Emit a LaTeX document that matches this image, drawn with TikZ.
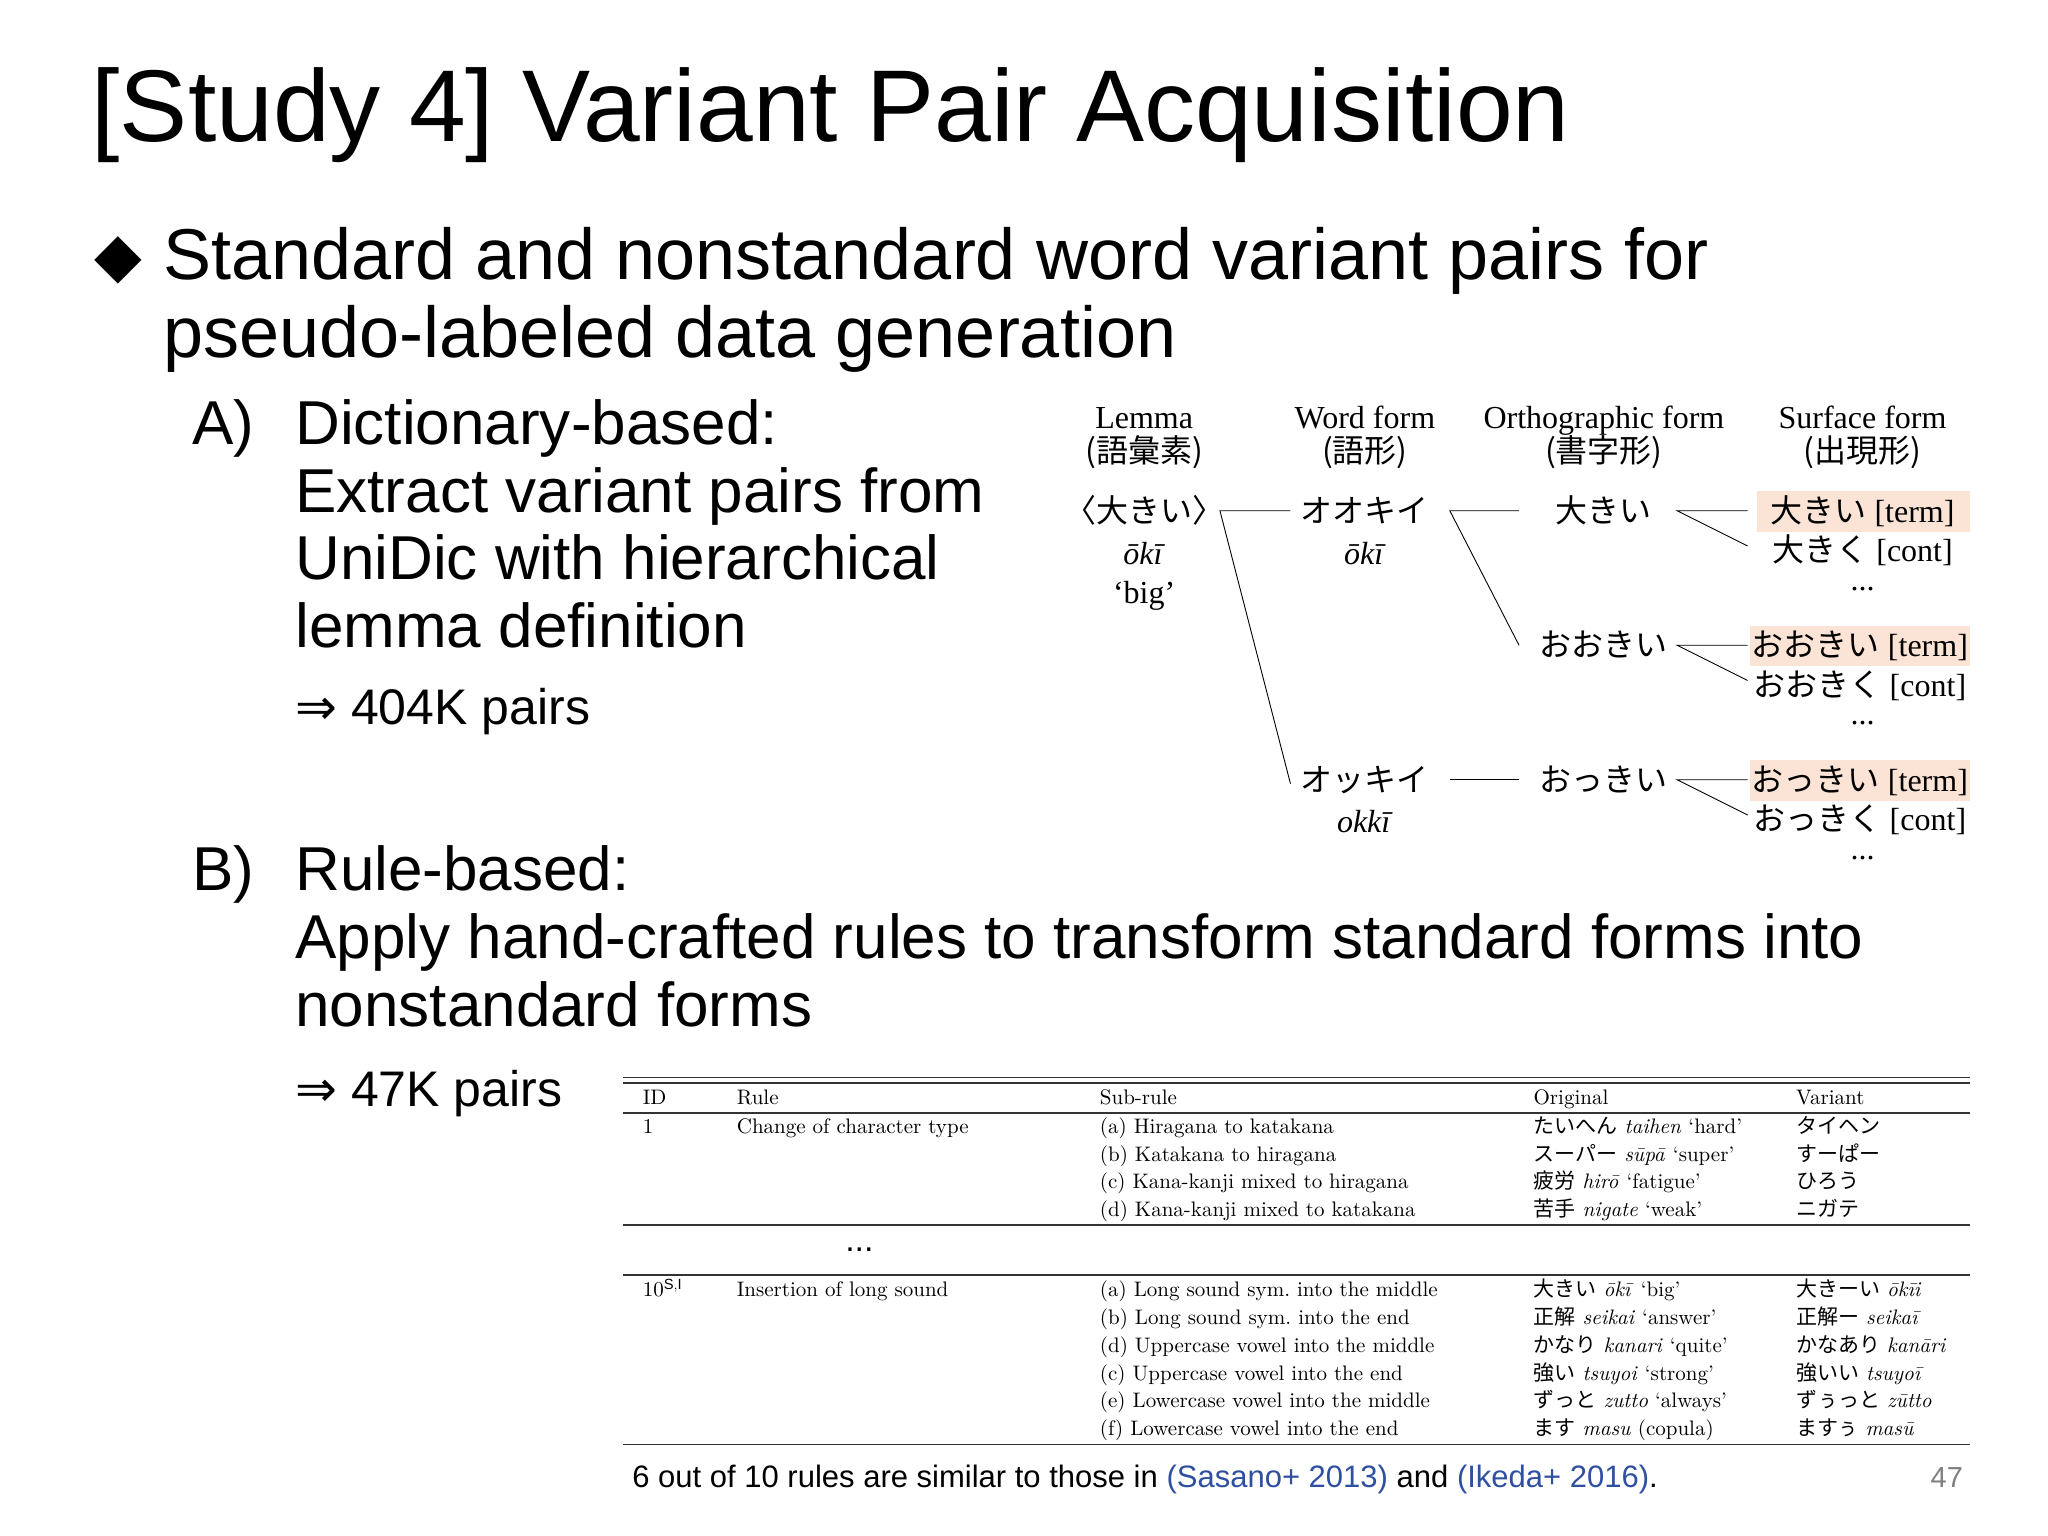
\documentclass[tikz,border=0pt]{standalone}
\usepackage{fontspec}
\setmainfont{Liberation Sans}
\newfontfamily\jp{Noto Sans CJK JP}
\newfontfamily\tser{Liberation Serif}
\newfontfamily\dvs{DejaVu Sans}
\newfontfamily\lm{lmroman10}[Extension=.otf,UprightFont=*-regular,ItalicFont=*-italic]
\newcommand{\fs}[1]{\fontsize{#1}{1.2\dimexpr #1\relax}\selectfont}
\newcommand{\J}[1]{{\jp #1}}
\definecolor{hl}{HTML}{FBE3D6}
\definecolor{lk}{HTML}{2F4FA0}
\tikzset{
 tt/.style={anchor=base,font=\tser\fs{32pt},inner sep=0pt},
 tb/.style={anchor=base west,font=\lm\fs{21pt},inner sep=0pt},
 ln/.style={line width=0.9pt},
 rl/.style={line width=1.6pt,black!80},
 sl/.style={anchor=base west,inner sep=0pt}
}
\begin{document}
\begin{tikzpicture}[x=1.306pt,y=-1.306pt]
\useasboundingbox (0,0) rectangle (1568,1176);
% title and bullets
\node[sl,font=\fs{102pt}] (title) at (70,108) {[Study 4] Variant Pair Acquisition};
\node[sl,font=\dvs\fs{62pt}] (dia) at (72,212) {◆};
\node[sl,font=\fs{72pt}] (b1) at (125,214) {Standard and nonstandard word variant pairs for};
\node[sl,font=\fs{72pt}] (b2) at (125,274) {pseudo-labeled data generation};
\node[sl,font=\fs{62pt}] (a0) at (147,340) {A)};
\node[sl,font=\fs{62pt}] (a1) at (226,340) {Dictionary-based:};
\node[sl,font=\fs{62pt}] (a2) at (226,392) {Extract variant pairs from};
\node[sl,font=\fs{62pt}] (a3) at (226,444) {UniDic with hierarchical};
\node[sl,font=\fs{62pt}] (a4) at (226,496) {lemma definition};
\node[sl,font=\fs{50pt}] (a5) at (226,555) {{\dvs ⇒} 404K pairs};
\node[sl,font=\fs{62pt}] (b0) at (147,682) {B)};
\node[sl,font=\fs{62pt}] (bb1) at (226,682) {Rule-based:};
\node[sl,font=\fs{62pt}] (bb2) at (226,734) {Apply hand-crafted rules to transform standard forms into};
\node[sl,font=\fs{62pt}] (bb3) at (226,786) {nonstandard forms};
\node[sl,font=\fs{50pt}] (bb4) at (226,847) {{\dvs ⇒} 47K pairs};
% tree
\fill[hl] (1345,376) rectangle (1508,407);
\fill[hl] (1340,479) rectangle (1508,510);
\fill[hl] (1340,582) rectangle (1508,613);
\node[tt] (h1) at (876,328) {Lemma};
\node[tt] (h1j) at (876,354) {\J{(語彙素)}};
\node[tt] (h2) at (1045,328) {Word form};
\node[tt] (h2j) at (1045,354) {\J{(語形)}};
\node[tt] (h3) at (1228,328) {Orthographic form};
\node[tt] (h3j) at (1228,354) {\J{(書字形)}};
\node[tt] (h4) at (1426,328) {Surface form};
\node[tt] (h4j) at (1426,354) {\J{(出現形)}};
\node[tt] (lem) at (876,400) {\J{〈大きい〉}};
\node[tt] (lem2) at (876,432) {\textit{ōkī}};
\node[tt] (lem3) at (876,462) {‘big’};
\node[tt] (wf1) at (1045,400) {\J{オオキイ}};
\node[tt] (wf1r) at (1045,432) {\textit{ōkī}};
\node[tt] (wf2) at (1045,606) {\J{オッキイ}};
\node[tt] (wf2r) at (1045,637) {\textit{okkī}};
\node[tt] (of1) at (1228,400) {\J{大きい}};
\node[tt] (of2) at (1228,503) {\J{おおきい}};
\node[tt] (of3) at (1228,606) {\J{おっきい}};
\node[tt] (s1t) at (1426,400) {\J{大きい} [term]};
\node[tt] (s1c) at (1426,430) {\J{大きく} [cont]};
\node[tt] (s1d) at (1426,452) {...};
\node[tt] (s2t) at (1424,503) {\J{おおきい} [term]};
\node[tt] (s2c) at (1424,533) {\J{おおきく} [cont]};
\node[tt] (s2d) at (1426,555) {...};
\node[tt] (s3t) at (1424,606) {\J{おっきい} [term]};
\node[tt] (s3c) at (1424,636) {\J{おっきく} [cont]};
\node[tt] (s3d) at (1426,658) {...};
\coordinate (p1) at (934,391); \coordinate (q1) at (988,391); \coordinate (q2) at (988,600);
\coordinate (p2) at (1110,391); \coordinate (r1) at (1163,391); \coordinate (r2) at (1163,494);
\coordinate (p3) at (1110,597); \coordinate (r3) at (1163,597);
\draw[ln] (q1) -- (p1) -- (q2);
\draw[ln] (r1) -- (p2) -- (r2);
\draw[ln] (p3) -- (r3);
\foreach \y in {391,494,597}{
 \coordinate (u\y) at (1284,\y);
 \draw[ln] (1338,\y) -- (u\y) -- (1338,\y+27);
}
% table
\draw[rl] (477,825) -- (1508,825);
\draw[rl] (477,829) -- (1508,829);
\draw[rl] (477,852) -- (1508,852);
\draw[rl] (477,938) -- (1508,938);
\draw[rl] (477,976) -- (1508,976);
\draw[rl] (477,1106) -- (1508,1106);
\node[tb] (hid) at (492,846) {ID};
\node[tb] (hru) at (564,846) {Rule};
\node[tb] (hsr) at (842,846) {Sub-rule};
\node[tb] (hor) at (1174,846) {Original};
\node[tb] (hva) at (1375,846) {Variant};
\node[tb] (id1) at (492,868) {1};
\node[tb] (ru1) at (564,868) {Change of character type};
\node[tb] (sa) at (842,868) {(a) Hiragana to katakana};
\node[tb] (sb) at (842,889) {(b) Katakana to hiragana};
\node[tb] (sc) at (842,910) {(c) Kana-kanji mixed to hiragana};
\node[tb] (sd) at (842,931) {(d) Kana-kanji mixed to katakana};
\node[tb] (oa) at (1174,868) {\J{たいへん} \textit{taihen} ‘hard’};
\node[tb] (ob) at (1174,889) {\J{スーパー} \textit{sūpā} ‘super’};
\node[tb] (oc) at (1174,910) {\J{疲労} \textit{hirō} ‘fatigue’};
\node[tb] (od) at (1174,931) {\J{苦手} \textit{nigate} ‘weak’};
\node[tb] (va) at (1375,868) {\J{タイヘン}};
\node[tb] (vb) at (1375,889) {\J{すーぱー}};
\node[tb] (vc) at (1375,910) {\J{ひろう}};
\node[tb] (vd) at (1375,931) {\J{ニガテ}};
\node[anchor=base,inner sep=0pt,font=\fs{34pt}] (dots) at (658,958) {...};
\node[tb] (id10) at (492,993) {10$^{\mathrm{S,I}}$};
\node[tb] (ru10) at (564,993) {Insertion of long sound};
\foreach \t/\o/\v [count=\i from 0] in {
 {(a) Long sound sym.\ into the middle}/{\J{大きい} \textit{ōkī} ‘big’}/{\J{大きーい} \textit{ōkīi}},
 {(b) Long sound sym.\ into the end}/{\J{正解} \textit{seikai} ‘answer’}/{\J{正解ー} \textit{seikaī}},
 {(d) Uppercase vowel into the middle}/{\J{かなり} \textit{kanari} ‘quite’}/{\J{かなあり} \textit{kanāri}},
 {(c) Uppercase vowel into the end}/{\J{強い} \textit{tsuyoi} ‘strong’}/{\J{強いい} \textit{tsuyoī}},
 {(e) Lowercase vowel into the middle}/{\J{ずっと} \textit{zutto} ‘always’}/{\J{ずぅっと} \textit{zūtto}},
 {(f) Lowercase vowel into the end}/{\J{ます} \textit{masu} (copula)}/{\J{ますぅ} \textit{masū}}}{
 \node[tb] (s10-\i) at (842,993+21.2*\i) {\t};
 \node[tb] (o10-\i) at (1174,993+21.2*\i) {\o};
 \node[tb] (v10-\i) at (1375,993+21.2*\i) {\v};
}
% footer
\node[sl,font=\fs{31pt}] (foot) at (484,1139) {6 out of 10 rules are similar to those in \textcolor{lk}{(Sasano+ 2013)} and \textcolor{lk}{(Ikeda+ 2016)}.};
\node[sl,font=\fs{29pt},text=black!50] (pg) at (1478,1139) {47};
\end{tikzpicture}
\end{document}
